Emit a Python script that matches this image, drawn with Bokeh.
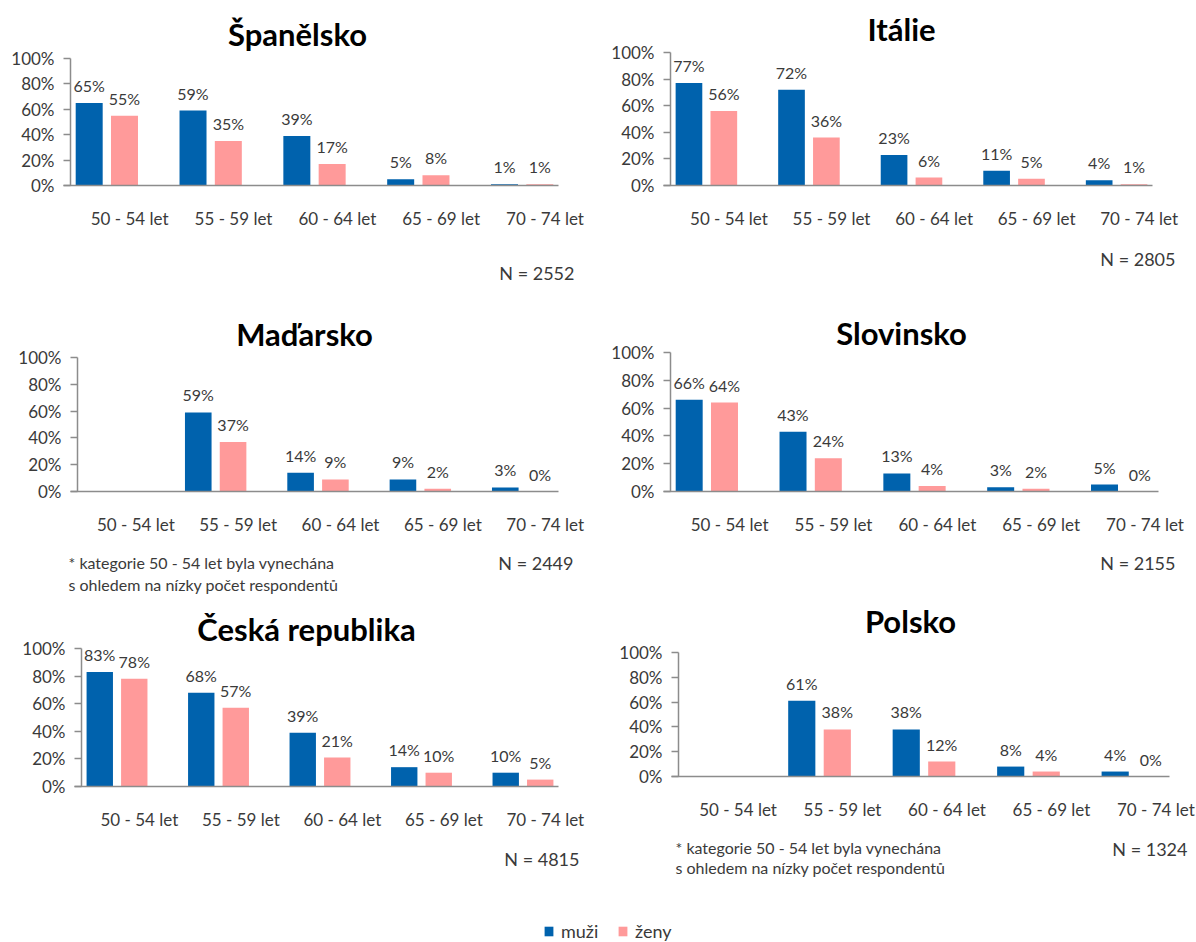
from bokeh.plotting import figure
from bokeh.models import (Range1d, FixedTicker, PrintfTickFormatter, ColumnDataSource,
                          LabelSet, Label, Legend, LegendItem)
from bokeh.layouts import column, row
from bokeh.core.properties import value
from bokeh.embed import file_html
from bokeh.resources import INLINE

# ---------------- data ----------------
categories = ["50 - 54 let", "55 - 59 let", "60 - 64 let", "65 - 69 let", "70 - 74 let"]
series_names = ["muži", "ženy"]
countries = ["Španělsko", "Itálie", "Maďarsko", "Slovinsko", "Česká republika", "Polsko"]

muzi_spanelsko = [65, 59, 39, 5, 1]
zeny_spanelsko = [55, 35, 17, 8, 1]
muzi_italie = [77, 72, 23, 11, 4]
zeny_italie = [56, 36, 6, 5, 1]
muzi_madarsko = [None, 59, 14, 9, 3]
zeny_madarsko = [None, 37, 9, 2, 0]
muzi_slovinsko = [66, 43, 13, 3, 5]
zeny_slovinsko = [64, 24, 4, 2, 0]
muzi_cesko = [83, 68, 39, 14, 10]
zeny_cesko = [78, 57, 21, 10, 5]
muzi_polsko = [None, 61, 38, 8, 4]
zeny_polsko = [None, 38, 12, 4, 0]

sample_sizes = [2552, 2805, 2449, 2155, 4815, 1324]
footnote_lines = ["* kategorie 50 - 54 let byla vynechána",
                  "s ohledem na nízky počet respondentů"]
has_footnote = [False, False, True, False, False, True]
y_ticks = [0, 20, 40, 60, 80, 100]

muzi_all = [muzi_spanelsko, muzi_italie, muzi_madarsko, muzi_slovinsko, muzi_cesko, muzi_polsko]
zeny_all = [zeny_spanelsko, zeny_italie, zeny_madarsko, zeny_slovinsko, zeny_cesko, zeny_polsko]

# ---------------- style / layout (page pixels) ----------------
BLUE = "#0062AD"
PINK = "#FF9A9A"
AXIS = "#8C8C8C"
TXT = "#3A3A3A"
FONT = "Lato"

COL_X = [0, 610]
COL_W = [610, 586]
ROW_Y = [0, 300, 596]
ROW_H = [300, 296, 346]

# per panel: axis-left, axis-right, 100%-line, 0%-line, title (x, y), N (right, y), footnote (x, y1, y2)
geom = [
    dict(L=70, R=558, T=58, B=185, tx=297, ty=33, nx=574, ny=272),
    dict(L=670, R=1152, T=52, B=185, tx=901, ty=28, nx=1175, ny=258),
    dict(L=77, R=558, T=357, B=491, tx=304, ty=333, nx=573, ny=562, fx=68, fy=(562, 584)),
    dict(L=670, R=1158, T=352, B=491, tx=901, ty=332, nx=1175, ny=562),
    dict(L=81, R=558, T=648, B=786, tx=306, ty=628, nx=579, ny=858),
    dict(L=678, R=1169, T=652, B=776, tx=910, ty=620, nx=1187, ny=848, fx=675, fy=(847, 867)),
]
SPAN = 4.70        # category units across the plot frame
X0 = -0.57         # category units at y-axis
OFF_M, OFF_Z, BAR_W = -0.39, -0.05, 0.26
legend_pos = [(543, 0), (617, 0)]


def make_panel(k):
    g = geom[k]
    c, r = k % 2, k // 2
    x0, w, y0, h = COL_X[c], COL_W[c], ROW_Y[r], ROW_H[r]
    sp = (g["R"] - g["L"]) / SPAN
    ppu = (g["B"] - g["T"]) / 100.0

    def xd(px):
        return (px - g["L"]) / sp + X0

    def yd(py):
        return (g["B"] - py) / ppu

    p = figure(width=w, height=h, output_backend="svg", toolbar_location=None,
               x_range=Range1d(xd(x0), xd(x0 + w)), y_range=Range1d(yd(y0 + h), yd(y0)),
               min_border=0)
    p.title.visible = False
    p.outline_line_color = None
    p.grid.visible = False
    p.background_fill_color = "white"

    rends = []
    for vals, off, col in ((muzi_all[k], OFF_M, BLUE), (zeny_all[k], OFF_Z, PINK)):
        xs = [i + off for i, v in enumerate(vals) if v is not None]
        ys = [v for v in vals if v is not None]
        src = ColumnDataSource(dict(x=xs, top=ys, text=[f"{v}%" for v in ys]))
        rends.append(p.vbar(x="x", top="top", width=BAR_W, bottom=0, source=src,
                            fill_color=col, line_color=None))
        p.add_layout(LabelSet(x="x", y="top", text="text", source=src,
                              text_align="center", text_baseline="alphabetic",
                              y_offset=11, text_font=value(FONT),
                              text_font_size="16px", text_color=TXT))

    ya = p.yaxis[0]
    ya.fixed_location = X0
    ya.bounds = (0, 100)
    ya.ticker = FixedTicker(ticks=y_ticks)
    ya.formatter = PrintfTickFormatter(format="%d%%")
    ya.axis_line_color = AXIS
    ya.axis_line_width = 1.5
    ya.major_tick_line_color = AXIS
    ya.major_tick_line_width = 1.5
    ya.major_tick_out = 7
    ya.major_tick_in = 0
    ya.minor_tick_line_color = None
    ya.major_label_standoff = 9
    ya.major_label_text_font = FONT
    ya.major_label_text_font_size = "17px"
    ya.major_label_text_color = TXT

    xa = p.xaxis[0]
    xa.fixed_location = 0
    xa.bounds = (xd(g["L"] - 7), xd(g["R"]))
    xa.ticker = FixedTicker(ticks=list(range(len(categories))))
    xa.major_label_overrides = {i: cat for i, cat in enumerate(categories)}
    xa.axis_line_color = AXIS
    xa.axis_line_width = 1.5
    xa.major_tick_line_color = None
    xa.minor_tick_line_color = None
    xa.major_tick_out = 0
    xa.major_tick_in = 0
    xa.major_label_standoff = 22
    xa.major_label_text_font = FONT
    xa.major_label_text_font_size = "17px"
    xa.major_label_text_color = TXT

    p.add_layout(Label(x=xd(g["tx"]), y=yd(g["ty"]), text=countries[k],
                       text_align="center", text_baseline="middle",
                       text_font=FONT, text_font_style="bold",
                       text_font_size="31px", text_color="black"))
    p.add_layout(Label(x=xd(g["nx"]), y=yd(g["ny"]), text=f"N = {sample_sizes[k]}",
                       text_align="right", text_baseline="middle",
                       text_font=FONT, text_font_size="18px", text_color=TXT))
    if has_footnote[k]:
        for j, line in enumerate(footnote_lines):
            p.add_layout(Label(x=xd(g["fx"]), y=yd(g["fy"][j]), text=line,
                               text_align="left", text_baseline="middle",
                               text_font=FONT, text_font_size="16px", text_color=TXT))
    if r == 2:
        item = LegendItem(label=series_names[c], renderers=[rends[c]])
        lx, ly = legend_pos[c]
        p.add_layout(Legend(items=[item], location=(lx - x0, ly), padding=0, margin=0,
                            glyph_width=11, glyph_height=12, label_standoff=7,
                            border_line_color=None, background_fill_alpha=0,
                            label_text_font=FONT, label_text_font_size="18px",
                            label_text_color=TXT))
    return p


panels = [make_panel(k) for k in range(6)]

page = column(row(panels[0], panels[1]), row(panels[2], panels[3]),
              row(panels[4], panels[5]))

open("out.html", "w").write(file_html(page, INLINE))
